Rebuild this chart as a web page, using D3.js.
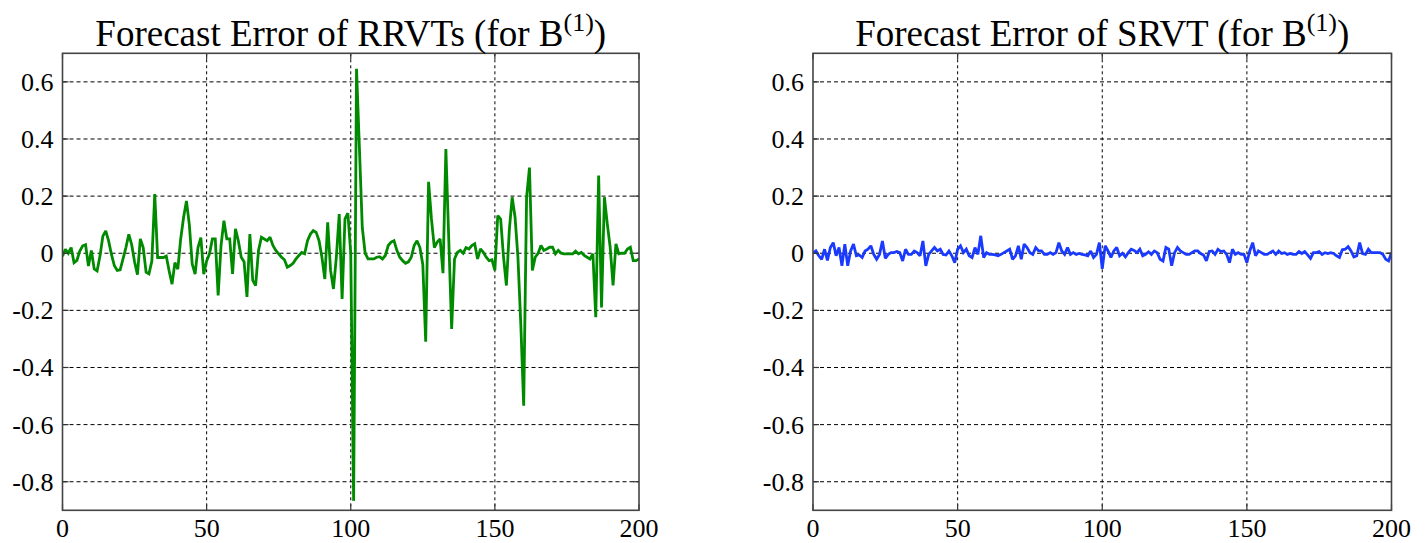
<!DOCTYPE html>
<html><head><meta charset="utf-8">
<script src="https://cdn.jsdelivr.net/npm/d3@7"></script>
<style>body{margin:0;background:#fff} svg{display:block} text{font-family:"Liberation Serif","Times New Roman",serif;fill:#000}</style>
</head><body><svg id="c" width="1425" height="543"></svg>
<script>
// time steps 0..200
const steps = d3.range(0, 201);
const xTicks = [0, 50, 100, 150, 200];
const yTicks = [0.6, 0.4, 0.2, 0, -0.2, -0.4, -0.6, -0.8];
const titles = ["Forecast Error of RRVTs (for B", "Forecast Error of SRVT (for B"];
const titleSup = "(1)";

const rrvtError = [
-0.010,
0.014, 0.000, 0.020, -0.033, -0.025, 0.008, 0.026, 0.030, -0.045, 0.010,
-0.055, -0.062, -0.010, 0.060, 0.078, 0.043, -0.005, -0.044, -0.060, -0.058,
-0.020, 0.020, 0.066, 0.030, -0.030, -0.075, 0.050, 0.020, -0.066, -0.072,
-0.027, 0.207, -0.015, -0.015, -0.015, -0.010, -0.062, -0.108, -0.033, -0.056,
0.050, 0.125, 0.183, 0.100, -0.038, -0.073, 0.020, 0.055, -0.073, -0.027,
-0.002, 0.050, 0.050, -0.148, 0.027, 0.114, 0.050, 0.050, -0.072, 0.085,
0.044, -0.014, -0.030, -0.153, 0.067, -0.095, -0.113, 0.010, 0.056, 0.050,
0.044, 0.056, 0.027, 0.010, -0.002, -0.014, -0.023, -0.049, -0.043, -0.035,
-0.020, -0.008, 0.003, -0.002, 0.044, 0.067, 0.079, 0.073, 0.044, -0.014,
-0.090, 0.108, -0.060, -0.125, -0.014, 0.137, -0.160, 0.120, 0.140, 0.000,
-0.867, 0.646, 0.370, 0.090, 0.000, -0.020, -0.020, -0.020, -0.014, -0.012,
-0.020, -0.008, 0.027, 0.039, 0.044, 0.010, -0.014, -0.026, -0.035, -0.030,
-0.014, 0.027, 0.044, 0.020, -0.040, -0.310, 0.250, 0.120, 0.020, 0.039,
0.050, -0.070, 0.365, 0.050, -0.265, -0.020, 0.003, 0.010, 0.000, 0.020,
0.015, 0.027, 0.033, -0.020, 0.015, 0.003, -0.014, -0.026, -0.023, -0.060,
0.132, 0.120, -0.014, -0.113, 0.080, 0.196, 0.126, -0.014, -0.250, -0.534,
0.196, 0.300, -0.060, -0.014, 0.000, 0.027, 0.010, 0.015, 0.021, 0.021,
-0.002, 0.010, 0.000, -0.002, -0.002, -0.002, -0.002, 0.007, -0.002, 0.003,
-0.008, -0.014, -0.020, -0.002, -0.224, 0.272, -0.190, 0.196, 0.103, 0.021,
-0.113, 0.033, -0.002, 0.000, 0.000, 0.015, 0.021, -0.026, -0.026, -0.020
];

const srvtError = [
0.000,
0.008, -0.009, -0.021, 0.014, -0.025, 0.020, 0.037, -0.009, 0.020, -0.044,
0.032, -0.044, 0.008, 0.032, -0.009, -0.006, -0.015, 0.008, 0.014, 0.026,
-0.004, -0.021, -0.004, 0.043, -0.018, -0.004, 0.002, 0.002, 0.006, 0.002,
-0.027, 0.014, -0.004, -0.004, 0.008, 0.002, -0.009, 0.043, -0.044, -0.004,
0.008, 0.020, 0.008, 0.014, -0.004, -0.006, 0.008, -0.009, -0.033, 0.014,
0.026, 0.002, 0.014, -0.009, -0.015, 0.020, -0.004, 0.061, -0.015, 0.002,
-0.004, -0.004, -0.006, -0.009, -0.004, 0.002, 0.008, 0.014, -0.021, -0.009,
0.026, -0.021, 0.032, 0.020, 0.002, -0.004, 0.020, 0.008, 0.008, -0.004,
-0.004, 0.002, -0.004, 0.002, 0.037, 0.008, -0.004, 0.020, -0.004, 0.002,
-0.004, -0.001, -0.004, -0.006, -0.009, 0.008, -0.015, -0.004, 0.037, -0.055,
0.026, 0.008, -0.015, 0.008, 0.020, -0.009, 0.000, -0.013, 0.002, 0.014,
0.010, 0.002, 0.014, -0.009, -0.004, 0.005, -0.004, 0.008, 0.002, -0.021,
-0.027, 0.020, 0.014, -0.044, 0.002, 0.020, 0.008, 0.002, -0.004, -0.004,
0.002, 0.008, 0.008, -0.001, -0.006, -0.027, 0.006, 0.008, -0.004, 0.014,
0.006, 0.008, -0.004, -0.033, 0.014, -0.004, 0.002, -0.004, -0.004, -0.033,
0.008, 0.037, -0.009, 0.008, 0.002, -0.004, -0.004, 0.002, 0.008, -0.004,
0.008, -0.001, 0.002, -0.004, -0.001, -0.004, -0.004, 0.006, -0.001, 0.006,
-0.006, -0.018, 0.002, 0.002, 0.006, -0.004, 0.002, -0.001, 0.002, -0.001,
-0.009, -0.015, 0.012, 0.014, 0.023, 0.008, -0.013, -0.009, 0.037, -0.001,
-0.004, 0.014, 0.002, 0.002, 0.002, 0.002, -0.004, -0.021, -0.027, 0.002
];

const panels = [
  {title: titles[0], values: rrvtError, color: "#008a00", left: 62.5, right: 639},
  {title: titles[1], values: srvtError, color: "#1a3aff", left: 813, right: 1391.5}
];
const plotTop = 53.3, plotBottom = 510.3;
const svg = d3.select("#c");

panels.forEach((p, pi) => {
  const x = d3.scaleLinear().domain([0, 200]).range([p.left, p.right]);
  const y = d3.scaleLinear().domain([-0.9, 0.7]).range([plotBottom, plotTop]);
  const g = svg.append("g");

  g.selectAll(".hg").data(yTicks).enter().append("line")
    .attr("x1", p.left).attr("x2", p.right)
    .attr("y1", d => y(d)).attr("y2", d => y(d))
    .attr("stroke", "#000").attr("stroke-width", 1).attr("stroke-dasharray", "4,3");
  g.selectAll(".vg").data(xTicks.slice(1, -1)).enter().append("line")
    .attr("x1", d => x(d)).attr("x2", d => x(d))
    .attr("y1", plotTop).attr("y2", plotBottom)
    .attr("stroke", "#000").attr("stroke-width", 1).attr("stroke-dasharray", "3,3");

  const cid = "clip" + pi;
  svg.append("clipPath").attr("id", cid).append("rect")
    .attr("x", p.left).attr("y", plotTop).attr("width", p.right - p.left).attr("height", plotBottom - plotTop);

  const line = d3.line().x((d, i) => x(steps[i])).y(d => y(d));
  g.append("path").datum(p.values)
    .attr("clip-path", `url(#${cid})`)
    .attr("d", line).attr("fill", "none")
    .attr("stroke", p.color).attr("stroke-width", 2.8).attr("stroke-linejoin", "miter").attr("stroke-miterlimit", 2);

  const tl = 6;
  yTicks.forEach(t => {
    g.append("line").attr("x1", p.left).attr("x2", p.left + tl).attr("y1", y(t)).attr("y2", y(t)).attr("stroke", "#333").attr("stroke-width", 1.2);
    g.append("line").attr("x1", p.right - tl).attr("x2", p.right).attr("y1", y(t)).attr("y2", y(t)).attr("stroke", "#333").attr("stroke-width", 1.2);
  });
  xTicks.forEach(t => {
    g.append("line").attr("x1", x(t)).attr("x2", x(t)).attr("y1", plotBottom).attr("y2", plotBottom - tl).attr("stroke", "#333").attr("stroke-width", 1.2);
    g.append("line").attr("x1", x(t)).attr("x2", x(t)).attr("y1", plotTop).attr("y2", plotTop + tl).attr("stroke", "#333").attr("stroke-width", 1.2);
  });

  g.append("rect").attr("x", p.left).attr("y", plotTop).attr("width", p.right - p.left).attr("height", plotBottom - plotTop)
    .attr("fill", "none").attr("stroke", "#444").attr("stroke-width", 1.6);

  g.selectAll(".yl").data(yTicks).enter().append("text")
    .attr("x", p.left - 9).attr("y", d => y(d) + 9)
    .attr("text-anchor", "end").attr("font-size", 26)
    .text(d => String(d));
  g.selectAll(".xl").data(xTicks).enter().append("text")
    .attr("x", d => x(d)).attr("y", plotBottom + 27)
    .attr("text-anchor", "middle").attr("font-size", 26)
    .text(d => d);

  const t = g.append("text").attr("x", (p.left + p.right) / 2).attr("y", 46)
    .attr("text-anchor", "middle").attr("font-size", 37);
  t.append("tspan").text(p.title);
  t.append("tspan").attr("dy", -15).attr("font-size", 26).text(titleSup);
  t.append("tspan").attr("dy", 15).text(")");
});
</script></body></html>
